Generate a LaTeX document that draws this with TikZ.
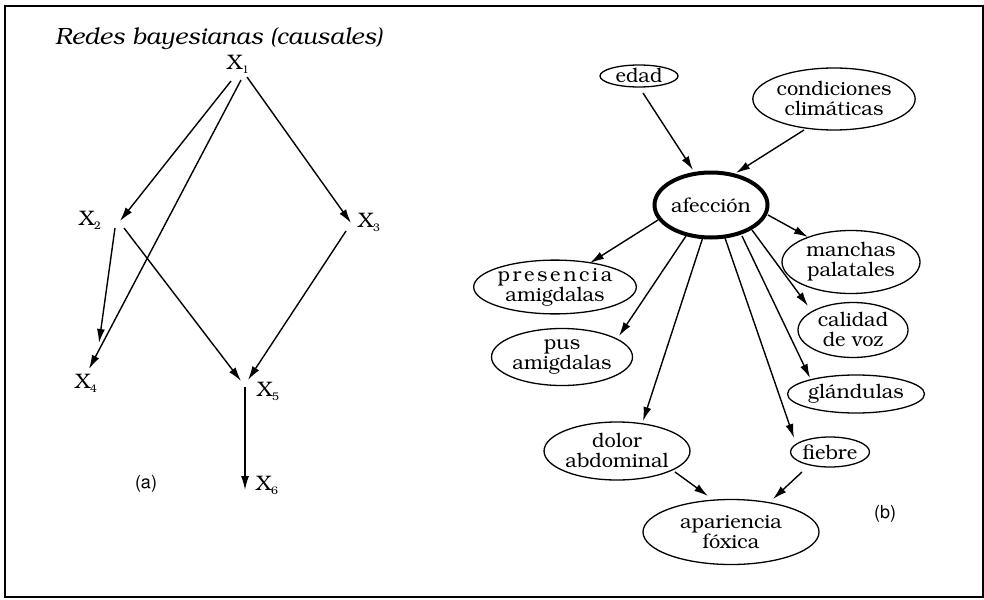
\documentclass[tikz,border=0pt]{standalone}
\usepackage[T1]{fontenc}
\usepackage{bookman}
\usetikzlibrary{shapes.geometric,arrows.meta,calc}
\newcommand\xsub[1]{\lower4pt\hbox{\fontsize{11}{11}\selectfont #1}}
\begin{document}
\begin{tikzpicture}[x=1pt,y=-1pt,
  arr/.style={line width=1.4pt,-{Latex[length=14pt,width=8pt]}},
  ell/.style={ellipse,draw,line width=1.3pt,inner sep=0pt,align=center,font=\fontsize{20}{20}\selectfont},
  xl/.style={inner sep=0pt,font=\fontsize{21}{21}\selectfont},
  lab/.style={inner sep=0pt,font=\fontfamily{phv}\fontsize{18}{18}\selectfont}]
\useasboundingbox (0,0) rectangle (984,599);
\draw[line width=1.4pt] (5,6) rectangle (983,597);

% left diagram
\node[anchor=base west,inner sep=0pt,font=\itshape\fontsize{23.5}{23.5}\selectfont] (title) at (55,45) {Redes bayesianas (causales)};
\node[xl] (x1) at (238,64) {X\xsub{1}};
\node[xl] (x2) at (90,220) {X\xsub{2}};
\node[xl] (x3) at (369,222) {X\xsub{3}};
\node[xl] (x4) at (86,383) {X\xsub{4}};
\node[xl] (x5) at (268,391) {X\xsub{5}};
\node[xl] (x6) at (267,485) {X\xsub{6}};
\node[lab] (la) at (146,484) {(a)};

\draw[arr] ($(x1)+(-7,17)$) -- ($(x2)+(30,1)$);
\draw[arr] ($(x1)+(3,16)$) -- ($(x4)+(3,-14)$);
\draw[arr] ($(x1)+(9,13)$) -- ($(x3)+(-18,1)$);
\draw[arr] ($(x2)+(25,8)$) -- ($(x4)+(13,-40)$);
\draw[arr] ($(x2)+(34,8)$) -- ($(x5)+(-27,-10)$);
\draw[arr] ($(x3)+(-23,9)$) -- ($(x5)+(-20,-11)$);
\draw[arr] ($(x5)+(-23,-4)$) -- ($(x6)+(-22,5)$);

% right diagram
\node[ell,minimum width=78pt,minimum height=22pt] (edad) at (639,76) {edad};
\node[ell,minimum width=152pt,minimum height=62pt] (cond) at (834,99) {condiciones\\clim\'aticas};
\node[ell,line width=4pt,minimum width=113pt,minimum height=65pt] (aff) at (711,205) {afecci\'on};
\node[ell,minimum width=136pt,minimum height=53pt] (pres) at (555,287) {\hbox to 115pt{p\hfil r\hfil e\hfil s\hfil e\hfil n\hfil c\hfil i\hfil a}\\amigdalas};
\node[ell,minimum width=141pt,minimum height=57pt] (pus) at (562,357) {pus\\amigdalas};
\node[ell,minimum width=138pt,minimum height=63pt] (man) at (851,262) {manchas\\palatales};
\node[ell,minimum width=110pt,minimum height=55pt] (cal) at (853,330) {calidad\\de voz};
\node[ell,minimum width=137pt,minimum height=38pt] (gla) at (856,394) {gl\'andulas};
\node[ell,minimum width=130pt,minimum height=58pt] (dol) at (617,451) {dolor\\abdominal};
\node[ell,minimum width=79pt,minimum height=30pt] (fie) at (830,452) {fiebre};
\node[ell,minimum width=176pt,minimum height=65pt] (apa) at (731,532) {apariencia\\f\'oxica};
\node[lab] (lb) at (885,514) {(b)};

\draw[arr] ($(edad)+(4,17)$) -- ($(aff)+(-18,-35)$);
\draw[arr] ($(cond)+(-30,31)$) -- ($(aff)+(25,-32)$);
\draw[arr] ($(aff)+(-53,15)$) -- ($(pres)+(35,-24)$);
\draw[arr] ($(aff)+(-25,31)$) -- ($(pus)+(57,-21)$);
\draw[arr] ($(aff)+(-8,32)$) -- ($(dol)+(26,-30)$);
\draw[arr] ($(aff)+(14,33)$) -- ($(fie)+(-36,-14)$);
\draw[arr] ($(aff)+(31,31)$) -- ($(gla)+(-46,-16)$);
\draw[arr] ($(aff)+(41,25)$) -- ($(cal)+(-45,-24)$);
\draw[arr] ($(aff)+(57,10)$) -- ($(man)+(-43,-25)$);
\draw[arr] ($(dol)+(58,21)$) -- ($(apa)+(-23,-36)$);
\draw[arr] ($(fie)+(-28,20)$) -- ($(apa)+(42,-33)$);
\end{tikzpicture}
\end{document}
